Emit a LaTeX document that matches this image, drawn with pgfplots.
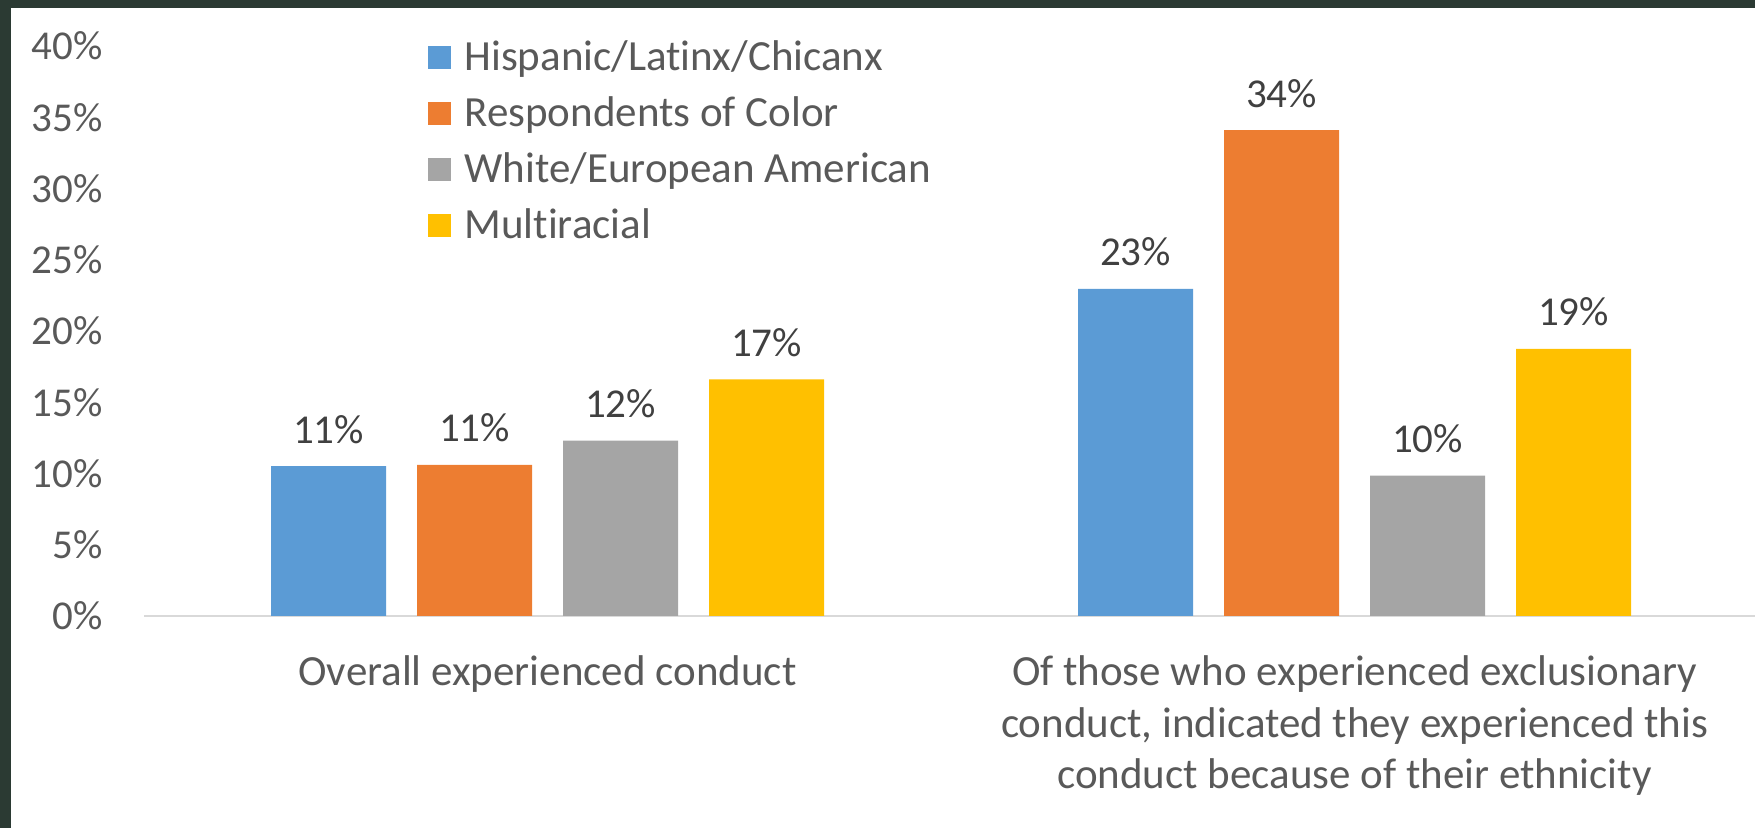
\documentclass[border=0pt]{standalone}
\usepackage{pgfplots}
\pgfplotsset{compat=1.18}
\usepackage{fontspec}
\setmainfont{Carlito}[Ligatures=NoCommon]
\definecolor{cblue}{HTML}{5B9BD5}
\definecolor{corange}{HTML}{ED7D31}
\definecolor{cgray}{HTML}{A5A5A5}
\definecolor{cyellow}{HTML}{FFC000}
\definecolor{labelgray}{HTML}{595959}
\definecolor{datagray}{HTML}{404040}
\definecolor{axisgray}{HTML}{D9D9D9}
\definecolor{frame}{HTML}{2B3A33}
\begin{document}
\begin{tikzpicture}[x=1pt,y=1pt]
\useasboundingbox (0,0) rectangle (877.5,414);
\begin{axis}[
  at={(72pt,106pt)}, anchor=south west,
  scale only axis, width=807pt, height=285pt,
  xmin=-0.5, xmax=1.5, ymin=0, ymax=40,
  ybar=15.5pt, bar width=57.5pt,
  /pgf/number format/assume math mode=true,
  xtick={0,1},
  xticklabels={Overall experienced conduct,{Of those who experienced exclusionary\\conduct, indicated they experienced this\\conduct because of their ethnicity}},
  ytick={0,5,...,40},
  yticklabel={\pgfmathprintnumber{\tick}\%},
  major tick length=0pt,
  separate axis lines,
  axis x line*=bottom, axis y line*=left,
  x axis line style={draw=axisgray, line width=1pt},
  y axis line style={draw=none},
  tick label style={text=labelgray},
  yticklabel style={font=\fontsize{20.5pt}{24pt}\selectfont, anchor=east, inner sep=0pt, xshift=-20.5pt},
  xticklabel style={font=\fontsize{21.5pt}{25.8pt}\selectfont, align=center, anchor=north, inner sep=0pt, yshift=-19.7pt},
  nodes near coords={\pgfmathprintnumber[fixed,precision=0]{\pgfplotspointmeta}\%},
  nodes near coords style={font=\fontsize{20.5pt}{24pt}\selectfont, text=datagray, anchor=base, inner sep=0pt, yshift=11.5pt},
  legend image code/.code={\fill[#1] (0pt,-4.25pt) rectangle (11.5pt,7.25pt);},
  legend style={at={(0.176,1.0067)}, anchor=north west, draw=none, fill=none,
    font=\fontsize{21.5pt}{25pt}\selectfont, text=labelgray, inner sep=0pt,
    row sep=10pt, legend cell align=left,
    nodes={inner sep=0pt, text height=14pt, text depth=4pt},
    /tikz/every odd column/.append style={column sep=6.5pt}},
]
\addplot[fill=cblue, draw=none] coordinates {(0,10.52) (1,22.95)};
\addplot[fill=corange, draw=none] coordinates {(0,10.6) (1,34.1)};
\addplot[fill=cgray, draw=none] coordinates {(0,12.3) (1,9.85)};
\addplot[fill=cyellow, draw=none] coordinates {(0,16.6) (1,18.75)};
\legend{Hispanic/Latinx/Chicanx, Respondents of Color, White/European American, Multiracial}
\end{axis}
\fill[frame] (0,410) rectangle (877.5,414);
\fill[frame] (0,0) rectangle (5.5,414);
\end{tikzpicture}
\end{document}
